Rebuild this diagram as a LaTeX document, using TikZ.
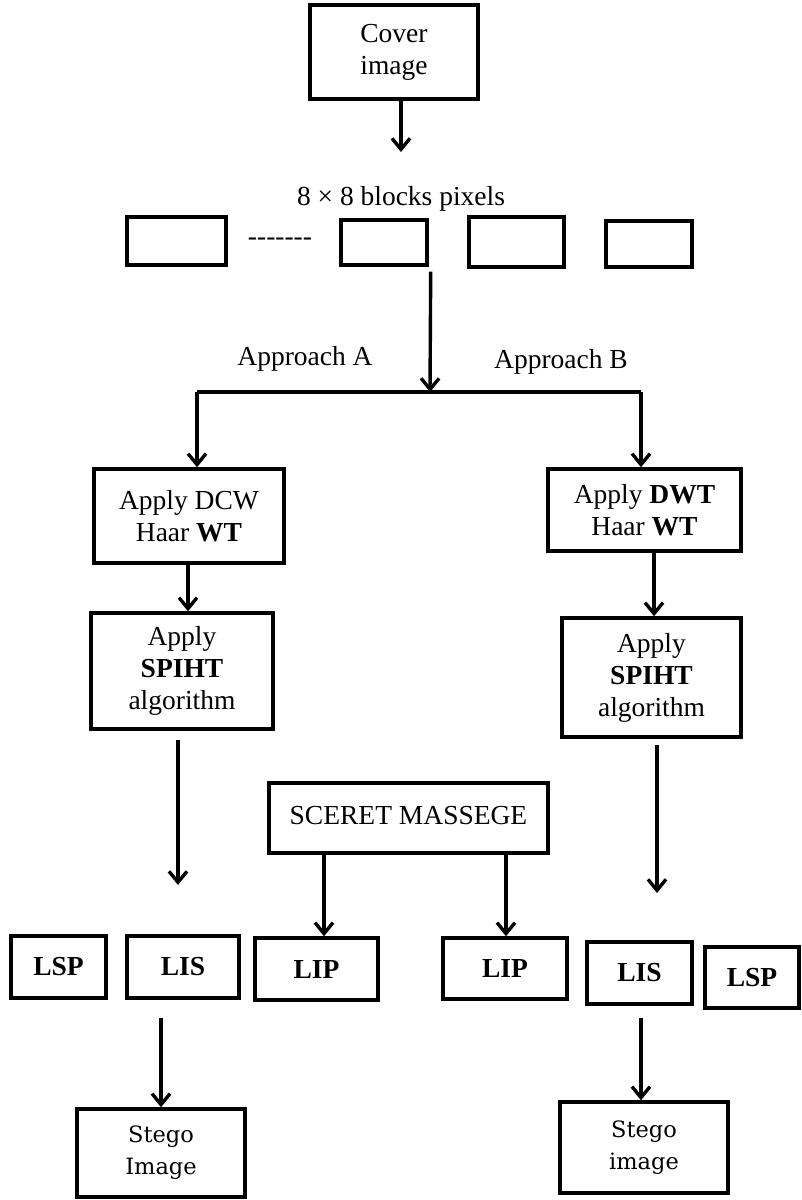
\documentclass[tikz,border=0pt]{standalone}
\usepackage{fontspec}
\setmainfont{Liberation Serif}
\newfontfamily\stegofont{DejaVu Serif}
\usetikzlibrary{arrows.meta}
\begin{document}
\begin{tikzpicture}[x=1pt,y=-1pt,line width=3.4pt,
  box/.style={draw,inner sep=0pt,align=center,font=\fontsize{27.5}{32}\selectfont},
  sbox/.style={draw,inner sep=0pt,align=center,font=\stegofont\fontsize{22.5}{32}\selectfont},
  lbl/.style={inner sep=0pt,font=\fontsize{27.5}{32}\selectfont},
  arr/.style={-{Straight Barb[length=11pt,width=18pt]}}]
\useasboundingbox (0,0) rectangle (801,1200);
% top
\node[box,minimum width=168pt,minimum height=94pt] (cover) at (394,52) {Cover\\image};
\coordinate (c1) at (401,152);
\draw[arr] (cover.south -| c1) -- (c1);
\node[lbl] (blk) at (401,199) {8 × 8 blocks pixels};
% blocks
\node[box,minimum width=99pt,minimum height=48pt] (b1) at (176.5,241) {};
\node[lbl] (dots) at (280,242) {-\kern0pt-\kern0pt-\kern0pt-\kern0pt-\kern0pt-\kern0pt-};
\node[box,minimum width=86pt,minimum height=45pt] (b2) at (384,242.5) {};
\node[box,minimum width=95pt,minimum height=50pt] (b3) at (516.5,242) {};
\node[box,minimum width=86pt,minimum height=46pt] (b4) at (649,244) {};
% split
\coordinate (jc) at (430,392);
\coordinate (jl) at (197,392);
\coordinate (jr) at (641,392);
\draw[arr] ([xshift=2pt,yshift=-5pt]b2.south east) -- (jc);
\draw (jl) -- (jr);
\node[lbl] (appA) at (305,359) {Approach A};
\node[lbl] (appB) at (561,362) {Approach B};
% left column
\node[box,minimum width=190pt,minimum height=94pt] (dcw) at (189,516) {Apply DCW\\Haar \textbf{WT}};
\node[box,minimum width=182pt,minimum height=116pt] (sp1) at (182,671) {Apply\\\textbf{SPIHT}\\algorithm};
\draw[arr] (jl) -- (jl |- dcw.north);
\coordinate (d1) at (188,0);
\draw[arr] (dcw.south -| d1) -- (sp1.north -| d1);
\coordinate (a1s) at (178,740);
\coordinate (a1e) at (178,885);
\draw[arr] (a1s) -- (a1e);
% right column
\node[box,minimum width=193pt,minimum height=82pt] (dwt) at (644.5,510) {Apply \textbf{DWT}\\Haar \textbf{WT}};
\node[box,minimum width=179pt,minimum height=119pt] (sp2) at (651.5,677.5) {Apply\\\textbf{SPIHT}\\algorithm};
\draw[arr] (jr) -- (jr |- dwt.north);
\coordinate (d2) at (654,0);
\draw[arr] (dwt.south -| d2) -- (sp2.north -| d2);
\coordinate (a2s) at (657,745);
\coordinate (a2e) at (657,893);
\draw[arr] (a2s) -- (a2e);
% secret message
\node[box,minimum width=279pt,minimum height=70pt] (sm) at (408.5,818) {\raisebox{6pt}{SCERET MASSEGE}};
% lists
\node[box,minimum width=95pt,minimum height=62pt] (lsp1) at (58.5,967) {\textbf{LSP}};
\node[box,minimum width=112pt,minimum height=62pt] (lis1) at (183,967) {\textbf{LIS}};
\node[box,minimum width=123pt,minimum height=62pt] (lip1) at (316.5,969) {\textbf{LIP}};
\node[box,minimum width=124pt,minimum height=61pt] (lip2) at (505,968.5) {\textbf{LIP}};
\node[box,minimum width=105pt,minimum height=62pt] (lis2) at (639.5,973) {\textbf{LIS}};
\node[box,minimum width=94pt,minimum height=61pt] (lsp2) at (752,977.5) {\textbf{LSP}};
\coordinate (m1) at (324,0);
\coordinate (m2) at (506,0);
\draw[arr] (sm.south -| m1) -- (lip1.north -| m1);
\draw[arr] (sm.south -| m2) -- (lip2.north -| m2);
% stego
\node[sbox,minimum width=168pt,minimum height=88pt] (st1) at (161,1153) {Stego\\Image};
\node[sbox,minimum width=168pt,minimum height=91pt] (st2) at (644,1147.5) {Stego\\image};
\coordinate (s1) at (161,1018);
\coordinate (s2) at (641,1018);
\draw[arr] (s1) -- (st1.north -| s1);
\draw[arr] (s2) -- (st2.north -| s2);
\end{tikzpicture}
\end{document}
